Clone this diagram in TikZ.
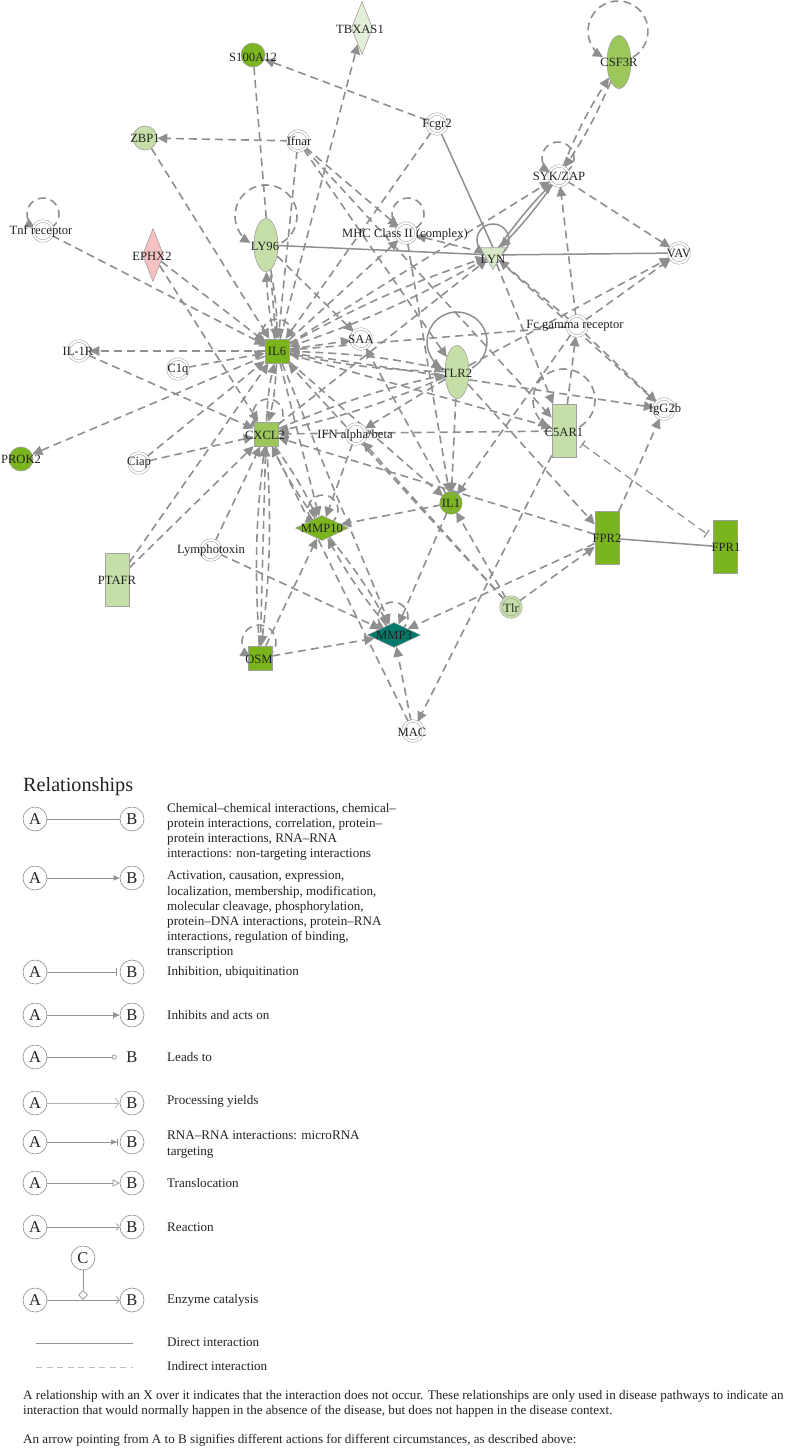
\documentclass[tikz,border=0pt]{standalone}
\usepackage{fontspec}
\setmainfont{Liberation Serif}
\usetikzlibrary{arrows.meta,shapes.geometric,calc}
\definecolor{eg}{RGB}{143,143,143}
\definecolor{ng}{RGB}{160,160,160}
\definecolor{dg}{HTML}{7AB51D}
\definecolor{mg}{HTML}{9CC85B}
\definecolor{lg}{HTML}{C6DFA9}
\definecolor{lyng}{HTML}{D8EAC7}
\definecolor{vlg}{HTML}{E4EFDA}
\definecolor{pk}{HTML}{F5C1C1}
\definecolor{tl}{HTML}{00796B}
\definecolor{txt}{HTML}{222222}
\pgfdeclarelayer{bg}
\pgfsetlayers{bg,main}
\newcommand{\selfloop}[5]{\draw[#5] ($(#1)+(#2,#3)$) ++(-60:#4pt) arc[start angle=-60,end angle=240,radius=#4pt];}
\tikzset{
  nd/.style={draw=ng, line width=0.6pt, inner sep=0pt},
  dbl/.style={circle, draw=ng, line width=0.5pt, double=white, double distance=2pt, fill=white, minimum size=20pt, inner sep=0pt},
  gdbl/.style={dbl, double=#1, fill=#1},
  gc/.style={nd, circle, minimum size=24pt},
  el/.style={nd, ellipse, minimum width=24pt, minimum height=53pt},
  rc/.style={nd, rectangle, minimum width=24pt, minimum height=53pt},
  sqr/.style={nd, rectangle, minimum size=24pt},
  vdia/.style={nd, diamond, minimum width=21pt, minimum height=53pt},
  hdia/.style={nd, diamond, minimum width=53pt, minimum height=25pt},
  tri/.style={nd, regular polygon, regular polygon sides=3, shape border rotate=180, minimum size=29pt},
  lbl/.style={inner sep=0pt, text=txt, font=\fontsize{12.6}{14}\selectfont},
  ah/.style={-{Triangle[length=10pt,width=9.5pt]}},
  dl/.style={draw=eg, line width=1.6pt, dash pattern=on 8pt off 5pt},
  de/.style={dl, ah},
  se/.style={draw=eg, line width=1.5pt},
  sea/.style={se, ah},
  lc/.style={circle, draw=black!45, line width=0.6pt, minimum size=24pt, inner sep=0pt, text=txt, font=\fontsize{16.5}{18}\selectfont},
  ll/.style={draw=black!42, line width=0.7pt},
  lt/.style={inner sep=0pt, text=txt, align=left, font=\fontsize{13.1}{15.2}\selectfont},
}
\begin{document}
\begin{tikzpicture}[x=1pt,y=-1pt]
\useasboundingbox (0,0) rectangle (790,1449);
% ---------------- network nodes ----------------
\node[vdia, fill=vlg] (tbxas1) at (362,28) {};
\node[gc, fill=dg] (s100) at (253,55) {};
\node[gc, fill=lg] (zbp1) at (145,138) {};
\node[dbl] (ifnar) at (298,141) {};
\node[dbl] (fcgr2) at (437,124) {};
\node[el, fill=mg] (csf3r) at (619,62) {};
\node[dbl] (syk) at (559,176) {};
\node[dbl] (tnfr) at (43,231) {};
\node[vdia, fill=pk] (ephx2) at (153,255) {};
\node[el, fill=lg] (ly96) at (266,245) {};
\node[dbl] (mhc) at (406,233) {};
\node[tri, fill=lyng] (lyn) at (493,255) {};
\node[dbl] (vav) at (679,253) {};
\node[sqr, fill=dg] (il6) at (277,351) {};
\node[dbl] (il1r) at (79,351) {};
\node[dbl] (c1q) at (178,369) {};
\node[dbl] (saa) at (361,339) {};
\node[dbl] (fcg) at (577,326) {};
\node[el, fill=lg] (tlr2) at (457,372) {};
\node[dbl] (igg2b) at (664,409) {};
\node[sqr, fill=mg] (cxcl2) at (266,434) {};
\node[dbl] (ifn) at (356,434) {};
\node[rc, fill=lg] (c5ar1) at (564,431) {};
\node[gc, fill=dg] (prok2) at (21,459) {};
\node[dbl] (ciap) at (139,463) {};
\node[gdbl=dg] (il1) at (451,503) {};
\node[hdia, fill=dg] (mmp10) at (322,528) {};
\node[rc, fill=dg] (fpr2) at (607,538) {};
\node[rc, fill=dg] (fpr1) at (725,547) {};
\node[dbl] (lymph) at (211,550) {};
\node[rc, fill=lg] (ptafr) at (117,580) {};
\node[gdbl=lg] (tlr) at (511,607) {};
\node[hdia, fill=tl] (mmp3) at (394,635) {};
\node[sqr, fill=dg] (osm) at (260,658) {};
\node[dbl] (mac) at (413,731) {};
% ---------------- labels ----------------
\node[lbl] (tbxas1-l) at (360,29) {TBXAS1};
\node[lbl] (s100-l) at (253,57) {S100A12};
\node[lbl] (zbp1-l) at (145,138) {ZBP1};
\node[lbl] (ifnar-l) at (299,141) {Ifnar};
\node[lbl] (fcgr2-l) at (437,125) {Fcgr2};
\node[lbl] (csf3r-l) at (619,62) {CSF3R};
\node[lbl] (syk-l) at (559,176) {SYK/ZAP};
\node[lbl] (tnfr-l) at (41,231) {Tnf receptor};
\node[lbl] (ephx2-l) at (152,256) {EPHX2};
\node[lbl] (ly96-l) at (265,246) {LY96};
\node[lbl] (mhc-l) at (405,234) {MHC Class II (complex)};
\node[lbl] (lyn-l) at (493,259) {LYN};
\node[lbl] (vav-l) at (679,253) {VAV};
\node[lbl] (il6-l) at (277,351) {IL6};
\node[lbl] (il1r-l) at (78,351) {IL-1R};
\node[lbl] (c1q-l) at (178,370) {C1q};
\node[lbl] (saa-l) at (361,339) {SAA};
\node[lbl] (fcg-l) at (575,326) {Fc gamma receptor};
\node[lbl] (tlr2-l) at (457,373) {TLR2};
\node[lbl] (igg2b-l) at (665,409) {IgG2b};
\node[lbl] (cxcl2-l) at (265,435) {CXCL2};
\node[lbl] (ifn-l) at (355,435) {IFN alpha/beta};
\node[lbl] (c5ar1-l) at (564,432) {C5AR1};
\node[lbl] (prok2-l) at (21,459) {PROK2};
\node[lbl] (ciap-l) at (139,463) {Ciap};
\node[lbl] (il1-l) at (451,503) {IL1};
\node[lbl] (mmp10-l) at (322,528) {MMP10};
\node[lbl] (fpr2-l) at (607,538) {FPR2};
\node[lbl] (fpr1-l) at (726,547) {FPR1};
\node[lbl] (lymph-l) at (211,550) {Lymphotoxin};
\node[lbl] (ptafr-l) at (117,580) {PTAFR};
\node[lbl] (tlr-l) at (511,608) {Tlr};
\node[lbl] (mmp3-l) at (394,635) {MMP3};
\node[lbl] (osm-l) at (259,659) {OSM};
\node[lbl] (mac-l) at (412,732) {MAC};
% ---------------- connectors ----------------
\begin{pgfonlayer}{bg}
\foreach \a/\b in {s100/il6, zbp1/il6, ifnar/il6, ifnar/zbp1, ifnar/mhc, ifnar/c5ar1, ifnar/tlr2,
  fcgr2/s100, fcgr2/il6, tnfr/il6, ephx2/il6, ephx2/cxcl2, il6/tbxas1, ly96/saa, il6/il1r, c1q/il6,
  il1r/cxcl2, il6/saa, il6/mhc, lyn/mhc, cxcl2/lyn, il6/syk, il6/igg2b, fcg/il6, ciap/il6, ciap/cxcl2,
  il6/prok2, ptafr/il6, ptafr/cxcl2, lymph/cxcl2, lymph/mmp3, osm/mmp10, osm/mmp3, mac/cxcl2, mac/mmp3,
  c5ar1/mac, il1/mmp10, il1/mmp3, tlr2/il1, tlr/il1, tlr/fpr2, tlr/ifn, tlr/il6, fpr2/mmp3, fpr2/igg2b,
  c5ar1/fcg, fcg/lyn, fcg/igg2b, lyn/igg2b, tlr2/fpr2, c5ar1/cxcl2, ifn/mmp10, lyn/c5ar1, fcg/il1,
  fcg/syk, fcg/vav, tlr2/vav, syk/vav, il1/saa, mhc/il1, fpr2/cxcl2, il6/mmp10, il6/mmp3, il6/il1,
  tlr2/ifn, il6/c5ar1, osm/cxcl2}
  \draw[de] (\a) -- (\b);
\foreach \a/\b in {il6/ly96, ly96/il6, csf3r/syk, syk/csf3r, il6/tlr2, tlr2/il6, il6/cxcl2, cxcl2/il6,
  cxcl2/osm, osm/cxcl2, cxcl2/mmp10, mmp10/cxcl2, mmp10/mmp3, mmp3/mmp10, tlr2/cxcl2, cxcl2/tlr2, lyn/il6, il6/lyn}
  \draw[de] (\a) to[bend left=5] (\b);
\draw[se] (ly96) -- (lyn);
\draw[se] (fcgr2) -- (lyn.north);
\draw[se] (lyn) -- (vav);
\draw[se] (fpr2) -- (fpr1);
\draw[sea] (lyn) to[bend left=4] (syk);
\draw[sea] (syk) to[bend left=4] (lyn);
\draw[dl, line width=1.2pt, {Bar[width=9pt]}-{Bar[width=9pt]}, shorten <=7pt, shorten >=7pt] (c5ar1) -- (fpr1);
% self loops
\selfloop{csf3r}{-1}{-31}{30}{de}
\selfloop{syk}{-1}{-18}{16}{de}
\selfloop{mhc}{2}{-19}{16}{de}
\selfloop{tnfr}{0}{-17}{16}{de}
\selfloop{ly96}{0}{-29}{31}{de}
\selfloop{lyn}{0}{-15}{16}{sea}
\selfloop{tlr2}{0}{-30}{30}{sea}
\selfloop{c5ar1}{0}{-31}{31}{de}
\selfloop{cxcl2}{2}{-20}{15}{de}
\selfloop{mmp10}{1}{-18}{15}{de}
\selfloop{osm}{-1}{-16}{17}{de}
\selfloop{mmp3}{-1}{-18}{15}{de}
\selfloop{il6}{0}{-17}{15}{de}
\end{pgfonlayer}
% ---------------- legend ----------------
\node[inner sep=0pt, text=txt, anchor=base west, font=\fontsize{20.2}{22}\selectfont] (rel) at (23,791) {Relationships};
\node[lc] (r1a) at (35,819) {A}; \node[lc] (r1b) at (132,819) {B};
\draw[ll] (r1a) -- (r1b);
\node[lt, anchor=north west] (t1) at (167,803) {Chemical–chemical interactions, chemical–\\protein interactions, correlation, protein–\\protein interactions, RNA–RNA\\interactions: non-targeting interactions};
\node[lc] (r2a) at (35,878) {A}; \node[lc] (r2b) at (132,878) {B};
\draw[ll, -{Triangle[length=6pt,width=5pt]}] (r2a) -- (r2b);
\node[lt, anchor=north west] (t2) at (167,871) {Activation, causation, expression,\\localization, membership, modification,\\molecular cleavage, phosphorylation,\\protein–DNA interactions, protein–RNA\\interactions, regulation of binding,\\transcription};
\node[lc] (r3a) at (35,972) {A}; \node[lc] (r3b) at (132,972) {B};
\draw[ll, -{Bar[width=8pt]}, shorten >=3pt] (r3a) -- (r3b);
\node[lt, anchor=west] (t3) at (167,972) {Inhibition, ubiquitination};
\node[lc] (r4a) at (35,1015) {A}; \node[lc] (r4b) at (132,1015) {B};
\draw[ll, -{Bar[width=7pt] Triangle[length=6pt,width=5pt]}] (r4a) -- (r4b);
\node[lt, anchor=west] (t4) at (167,1015) {Inhibits and acts on};
\node[lc] (r5a) at (35,1057) {A}; \node[lc, draw=none] (r5b) at (132,1057) {B};
\draw[ll, -{Circle[open,length=5pt]}, shorten >=3pt] (r5a) -- (r5b);
\node[lt, anchor=west] (t5) at (167,1057) {Leads to};
\node[lc] (r6a) at (35,1103) {A}; \node[lc] (r6b) at (132,1103) {B};
\draw[ll, draw=black!30, -{Straight Barb[length=4pt,width=10pt]}] (r6a) -- (r6b);
\node[lt, anchor=west] (t6) at (167,1101) {Processing yields};
\node[lc] (r7a) at (35,1142) {A}; \node[lc] (r7b) at (132,1142) {B};
\draw[ll, -{Triangle[length=6pt,width=5pt] Bar[width=7pt]}, shorten >=2pt] (r7a) -- (r7b);
\node[lt, anchor=north west] (t7) at (167,1131) {RNA–RNA interactions: microRNA\\targeting};
\node[lc] (r8a) at (35,1183) {A}; \node[lc] (r8b) at (132,1183) {B};
\draw[ll, -{Triangle[open,length=7pt,width=7pt]}] (r8a) -- (r8b);
\node[lt, anchor=west] (t8) at (167,1183) {Translocation};
\node[lc] (r9a) at (35,1227) {A}; \node[lc] (r9b) at (132,1227) {B};
\draw[ll, -{Straight Barb[length=3pt,width=7pt]}] (r9a) -- (r9b);
\node[lt, anchor=west] (t9) at (167,1227) {Reaction};
\node[lc] (r10c) at (83,1258) {C};
\node[lc] (r10a) at (35,1300) {A}; \node[lc] (r10b) at (132,1300) {B};
\draw[ll, -{Straight Barb[length=3pt,width=7pt]}] (r10a) -- (r10b);
\node[diamond, draw=black!42, line width=0.7pt, fill=white, minimum size=9pt, inner sep=0pt] (dmd) at (83,1295) {};
\draw[ll] (r10c) -- (dmd);
\node[lt, anchor=west] (t10) at (167,1300) {Enzyme catalysis};
\coordinate (d1) at (36,1343); \coordinate (d2) at (133,1343);
\draw[ll] (d1) -- (d2);
\node[lt, anchor=west] (t11) at (167,1342) {Direct interaction};
\coordinate (i1) at (36,1367); \coordinate (i2) at (133,1367);
\draw[ll, draw=black!25, dash pattern=on 6pt off 4.5pt] (i1) -- (i2);
\node[lt, anchor=west] (t12) at (167,1366) {Indirect interaction};
\node[lt, anchor=north west] (p1) at (23,1390) {A relationship with an X over it indicates that the interaction does not occur. These relationships are only used in disease pathways to indicate an\\interaction that would normally happen in the absence of the disease, but does not happen in the disease context.};
\node[lt, anchor=west] (p2) at (23,1440) {An arrow pointing from A to B signifies different actions for different circumstances, as described above:};
\end{tikzpicture}
\end{document}
